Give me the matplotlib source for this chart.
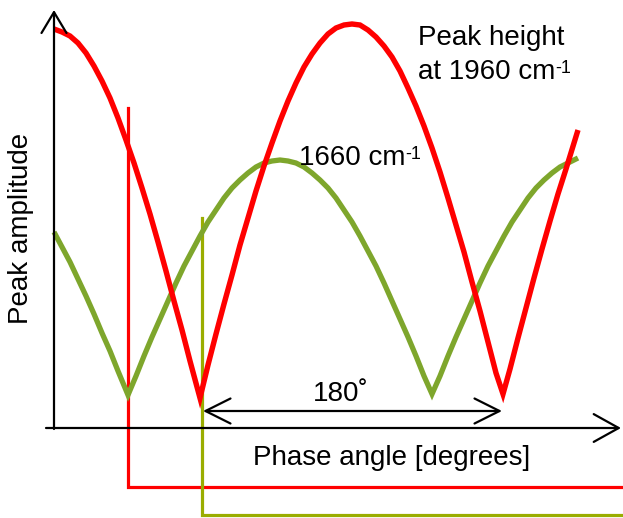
import numpy as np
import matplotlib
matplotlib.use("Agg")
import matplotlib.pyplot as plt

plt.rcParams['font.family'] = ['Liberation Sans', 'DejaVu Sans']

# curve samples (pixel coords, y grows downward)
red_x = [54, 62, 70, 78, 86, 94, 102, 110, 118, 126, 134, 142, 150, 158, 166, 174, 182, 190,
         200, 208, 216, 224, 232, 240, 248, 256, 264, 272, 280, 288, 296, 304, 312, 320,
         328, 336, 344, 352, 360, 368, 376, 384, 392, 400, 408, 416, 424, 432, 440, 448,
         456, 464, 472, 480, 488, 496, 503, 510, 518, 526, 534, 542, 550, 558, 566, 578]
red_y = [29, 32, 36, 43, 53, 66, 81, 98, 118, 140, 163, 188, 214, 242, 271, 301, 330, 361,
         398, 365, 334, 304, 275, 245, 218, 191, 166, 143, 121, 101, 83, 67, 54, 43,
         34, 28, 25, 24, 25, 30, 37, 46, 57, 71, 88, 106, 126, 148, 172, 198,
         225, 252, 282, 311, 342, 373, 394, 369, 338, 308, 278, 249, 221, 194, 169, 130]

green_x = [54, 62, 70, 78, 86, 94, 102, 110, 118, 128, 136, 144, 152, 160, 168, 176, 184,
           192, 200, 208, 216, 224, 232, 240, 248, 256, 264, 272, 280, 288, 296, 304, 312,
           320, 328, 336, 344, 352, 360, 368, 376, 384, 392, 400, 408, 416, 424, 432, 440,
           448, 456, 464, 472, 480, 488, 496, 504, 512, 520, 528, 536, 544, 552, 560, 568, 578]
green_y = [232, 247, 262, 279, 296, 314, 333, 351, 371, 395, 376, 356, 337, 319, 301, 283, 266,
           251, 236, 222, 210, 198, 188, 180, 173, 167, 163, 161, 160, 161, 163, 167, 173,
           180, 188, 198, 210, 222, 236, 251, 266, 283, 301, 319, 337, 356, 376, 394, 376,
           356, 337, 319, 301, 283, 266, 251, 236, 222, 210, 198, 188, 180, 173, 167, 163, 158]

# marker lines (x position, top, bottom)
red_marker = (128, 108, 487)
green_marker = (202, 218, 515)

W, H = 623, 518
fig = plt.figure(figsize=(W / 100, H / 100), dpi=100)
ax = fig.add_axes([0, 0, 1, 1])
ax.set_xlim(0, W)
ax.set_ylim(H, 0)
ax.axis('off')

RED = '#FF0000'
GREEN = '#7EA62C'
OLIVE = '#9AAD00'

# marker lines
ax.plot([red_marker[0], red_marker[0], W], [red_marker[1], red_marker[2], red_marker[2]],
        color=RED, lw=2.3, solid_joinstyle='miter')
ax.plot([green_marker[0], green_marker[0], W], [green_marker[1], green_marker[2], green_marker[2]],
        color=OLIVE, lw=2.3, solid_joinstyle='miter')

# curves
ax.plot(green_x, green_y, color=GREEN, lw=3.8, solid_joinstyle='miter', solid_capstyle='butt')
ax.plot(red_x, red_y, color=RED, lw=3.9, solid_joinstyle='miter', solid_capstyle='butt')

# axes with open arrowheads
arw = dict(lw=1.6, color='black', shrinkA=0, shrinkB=0, mutation_scale=20)
ax.annotate('', xy=(54, 10), xytext=(54, 429),
            arrowprops=dict(arrowstyle='->,head_length=0.75,head_width=0.45', **arw))
ax.annotate('', xy=(621, 428), xytext=(46, 428),
            arrowprops=dict(arrowstyle='->,head_length=0.9,head_width=0.5', **arw))
ax.annotate('', xy=(203, 411), xytext=(502, 411),
            arrowprops=dict(arrowstyle='<->,head_length=0.9,head_width=0.45', **arw))

fs = 20
sup = 13
ax.text(341, 401, '180˚', fontsize=fs, ha='center', va='baseline')
ax.text(392, 465, 'Phase angle [degrees]', fontsize=fs, ha='center', va='baseline')
ax.text(21, 228, 'Peak amplitude', fontsize=fs, ha='center', va='center', rotation=90)
ax.text(418, 45, 'Peak height', fontsize=fs, ha='left', va='baseline')
t1 = ax.text(418, 79, 'at 1960 cm', fontsize=fs, ha='left', va='baseline')
ax.annotate('-1', xy=(1, 0.97), xycoords=t1, fontsize=sup, ha='left', va='top')
t2 = ax.text(299, 165, '1660 cm', fontsize=fs, ha='left', va='baseline')
ax.annotate('-1', xy=(1, 0.97), xycoords=t2, fontsize=sup, ha='left', va='top')

fig.savefig('out.png', dpi=100)
